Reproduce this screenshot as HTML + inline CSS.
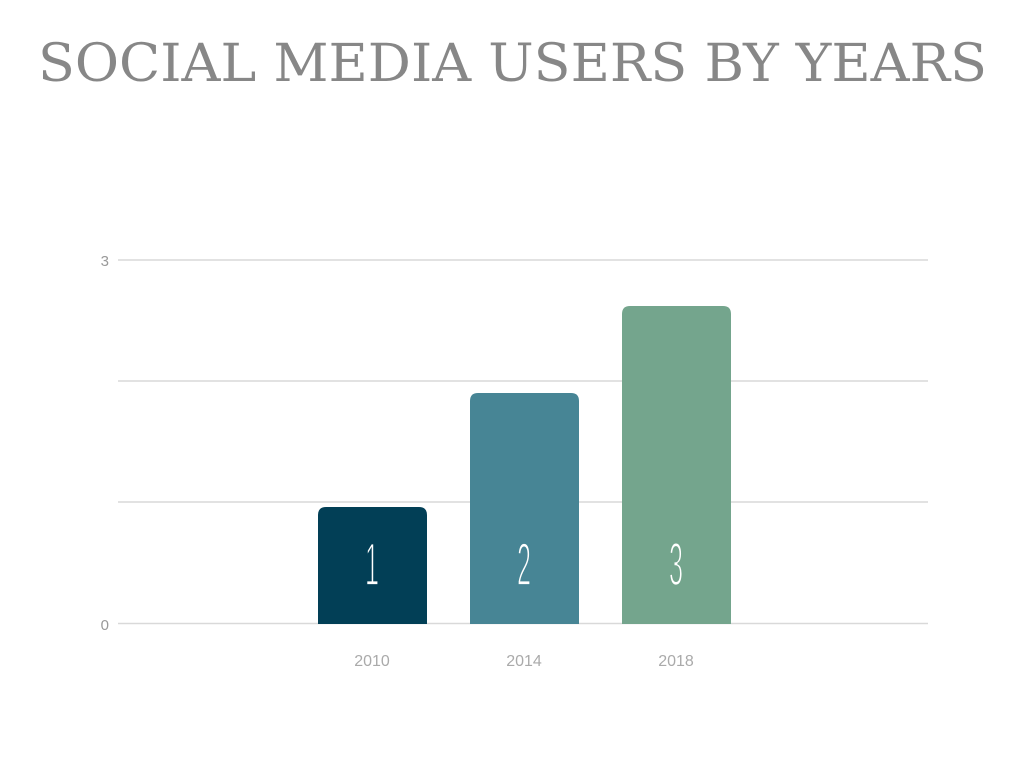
<!DOCTYPE html>
<html><head><meta charset="utf-8"><style>
html,body{margin:0;padding:0;background:#fff;width:1024px;height:768px;overflow:hidden}
</style></head><body>
<svg width="1024" height="768" xmlns="http://www.w3.org/2000/svg">
<text x="38" y="81" textLength="949" lengthAdjust="spacingAndGlyphs" font-family="DejaVu Serif, Liberation Serif, serif" font-size="52" fill="#878787">SOCIAL MEDIA USERS BY YEARS</text>
<g stroke="#d9d9d9" stroke-width="1.5">
<line x1="118" y1="260" x2="928" y2="260"/>
<line x1="118" y1="381" x2="928" y2="381"/>
<line x1="118" y1="502" x2="928" y2="502"/>
<line x1="118" y1="623.5" x2="928" y2="623.5"/>
</g>
<g font-family="Liberation Sans, sans-serif" font-size="15" fill="#999" text-anchor="end">
<text x="109" y="266">3</text>
<text x="109" y="630">0</text>
</g>
<path d="M318,624 V515 Q318,507 326,507 H419 Q427,507 427,515 V624 Z" fill="#023F56"/>
<path d="M470,624 V401 Q470,393 478,393 H571 Q579,393 579,401 V624 Z" fill="#478595"/>
<path d="M622,624 V314 Q622,306 630,306 H723 Q731,306 731,314 V624 Z" fill="#74A58D"/>
<g font-family="Liberation Sans, sans-serif" font-size="60" fill="#fff" text-anchor="middle" stroke-width="1.8">
<text transform="translate(372,585) scale(0.42,1)" stroke="#023F56">1</text>
<text transform="translate(524,585) scale(0.42,1)" stroke="#478595">2</text>
<text transform="translate(676,585) scale(0.42,1)" stroke="#74A58D">3</text>
</g>
<g font-family="Liberation Sans, sans-serif" font-size="16" fill="#aaa" text-anchor="middle">
<text x="372" y="666">2010</text>
<text x="524" y="666">2014</text>
<text x="676" y="666">2018</text>
</g>
</svg>
</body></html>
